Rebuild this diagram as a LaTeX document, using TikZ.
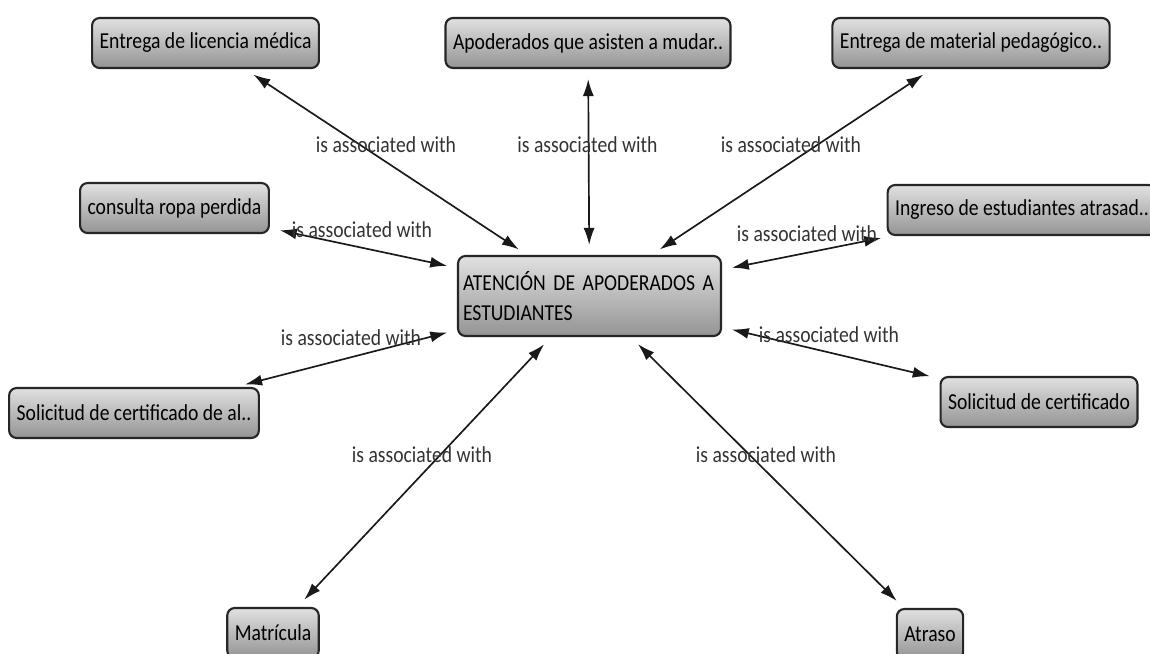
\documentclass[tikz,border=0pt]{standalone}
\usepackage{fontspec}
\newfontfamily\mapfont[FakeStretch=0.86]{Carlito}
\usetikzlibrary{arrows.meta}

\tikzset{
  concept/.style={draw=black!85, line width=1.2pt, rounded corners=0.15cm,
    top color=black!12, bottom color=black!42, text=black,
    font=\mapfont\fontsize{13}{17}\selectfont, inner xsep=0.15cm, minimum height=1cm},
  link/.style={text=black!80, font=\mapfont\fontsize{13}{16}\selectfont, inner sep=0pt},
  assoc/.style={arrows={Latex[length=0.34cm,width=0.22cm]-Latex[length=0.34cm,width=0.22cm]},
    line width=0.95pt, black!90, shorten >=0.2cm, shorten <=0.2cm}
}

\begin{document}
\begin{tikzpicture}[x=0.02cm,y=-0.02cm]
  \path[fill=white] (0,0) rectangle (1150,653);
  \useasboundingbox (0,0) rectangle (1150,653);

  % centro
  \node[concept, text width=5.06cm, align=left, inner xsep=0.1cm, minimum height=1.6cm]
    (cen) at (589.5,296) {ATENCIÓN DE APODERADOS A\\ESTUDIANTES};

  % arriba
  \node[concept] (lic) at (205.5,43) {Entrega de licencia médica};
  \node[concept] (apo) at (588,43) {Apoderados que asisten a mudar..};
  \node[concept] (mat) at (971,43) {Entrega de material pedagógico..};

  % lados
  \node[concept] (ropa) at (174.5,208) {consulta ropa perdida};
  \node[concept] (ing) at (1022,210) {Ingreso de estudiantes atrasad..};
  \node[concept] (sal) at (134,413) {Solicitud de certificado de al..};
  \node[concept] (scert) at (1039,402) {Solicitud de certificado};

  % abajo
  \node[concept] (matr) at (273,633) {Matrícula};
  \node[concept] (atr) at (930,634) {Atraso};

  % flechas
  \draw[assoc] (cen) -- (lic);
  \draw[assoc] (cen) -- (apo);
  \draw[assoc] (cen) -- (mat);
  \draw[assoc] (cen) -- (ropa);
  \draw[assoc] (cen) -- (ing);
  \draw[assoc] (cen) -- (sal);
  \draw[assoc] (cen) -- (scert);
  \draw[assoc] (cen) -- (matr);
  \draw[assoc] (cen) -- (atr);

  % etiquetas
  \node[link] (l1) at (386,145) {is associated with};
  \node[link] (l2) at (587.5,145) {is associated with};
  \node[link] (l3) at (791,145) {is associated with};
  \node[link] (l4) at (362,230) {is associated with};
  \node[link] (l5) at (807,234) {is associated with};
  \node[link] (l6) at (351,338) {is associated with};
  \node[link] (l7) at (829,335) {is associated with};
  \node[link] (l8) at (422,455) {is associated with};
  \node[link] (l9) at (766,455) {is associated with};
\end{tikzpicture}
\end{document}
